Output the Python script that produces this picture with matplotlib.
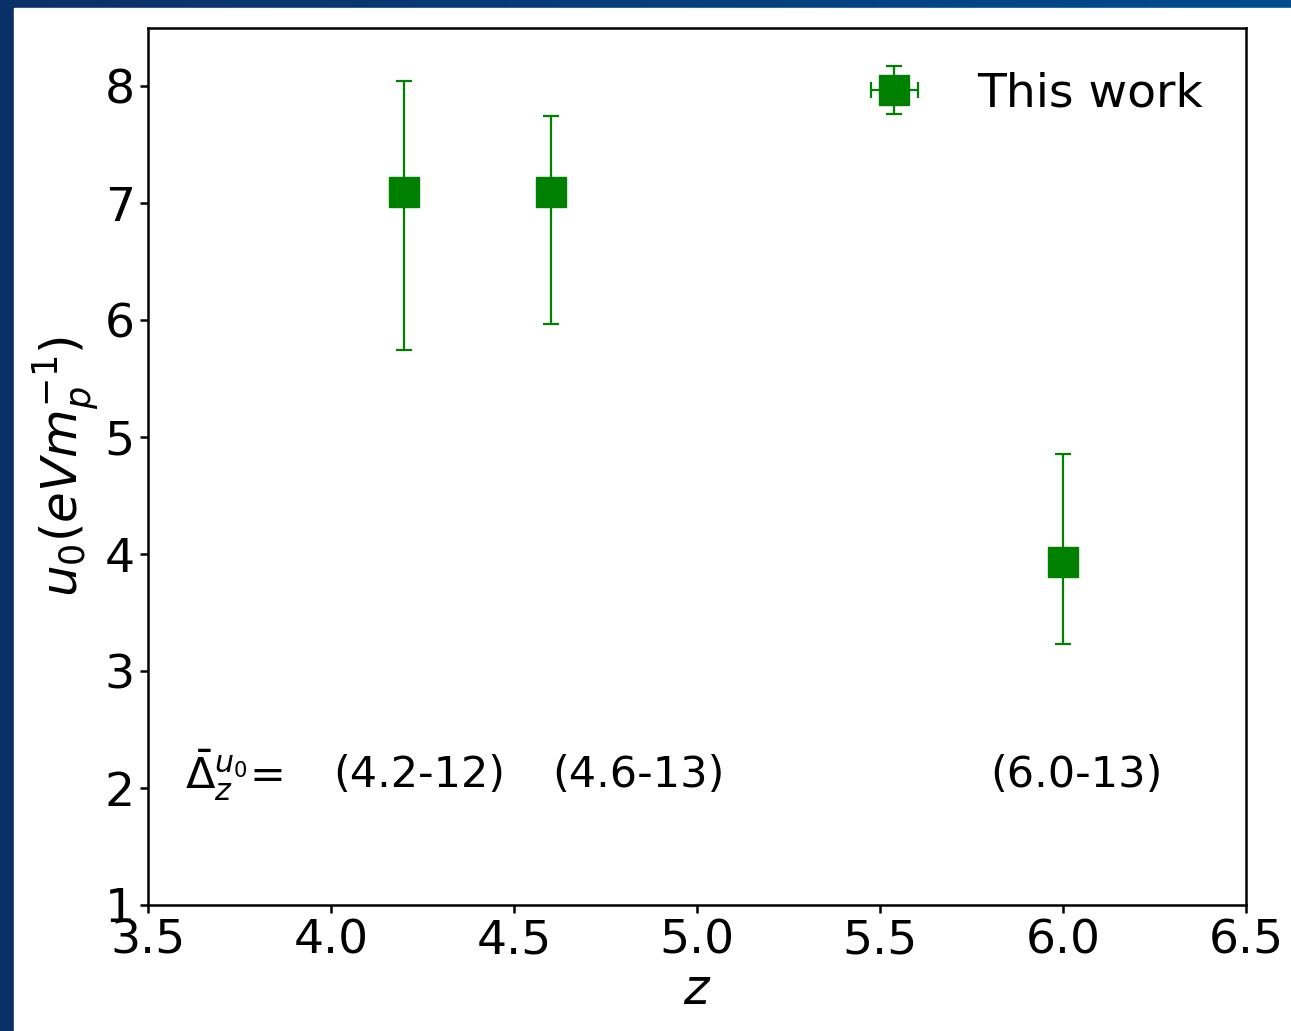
import numpy as np
import matplotlib
matplotlib.use('Agg')
import matplotlib.pyplot as plt
from matplotlib.patches import Rectangle

# dados
z = [4.2, 4.6, 6.0]
u0 = [7.10, 7.10, 3.93]
err_up = [0.95, 0.65, 0.93]
err_down = [1.35, 1.13, 0.70]
z_err = [0.0, 0.0, 0.0]
rotulos = ['(4.2-12)', '(4.6-13)', '(6.0-13)']
rotulo_x = [4.005, 4.604, 5.80]

fig = plt.figure(figsize=(12.91, 10.31), dpi=100)

# moldura azul do slide
fundo = fig.add_axes([0, 0, 1, 1], zorder=-2)
grad = np.linspace(0, 1, 256).reshape(1, -1)
cmap = matplotlib.colors.LinearSegmentedColormap.from_list('slide', ['#0b3068', '#004c8e'])
fundo.imshow(grad, aspect='auto', cmap=cmap, extent=[0, 1, 0, 1])
fundo.add_patch(Rectangle((14 / 1291, 0), 1, 1 - 8 / 1031, color='white'))
fundo.set_xlim(0, 1)
fundo.set_ylim(0, 1)
fundo.axis('off')

ax = fig.add_axes([148 / 1291, 126 / 1031, 1098 / 1291, 877 / 1031])
ax.errorbar(z, u0, yerr=[err_down, err_up], xerr=z_err, fmt='s', color='green',
            markersize=22, elinewidth=1.6, capsize=6, capthick=1.6, label='This work')

ax.text(3.60, 2.11, r'$\bar{\Delta}_z^{u_0}$=', fontsize=31, va='center')
for xr, txt in zip(rotulo_x, rotulos):
    ax.text(xr, 2.11, txt, fontsize=31, va='center')

ax.set_xlim(3.5, 6.5)
ax.set_ylim(1, 8.5)
ax.set_xticks(np.arange(3.5, 6.51, 0.5))
ax.set_yticks(range(1, 9))
ax.tick_params(labelsize=34, width=1.8, length=6)
for s in ax.spines.values():
    s.set_linewidth(1.8)
ax.set_xlabel('$z$', fontsize=35, labelpad=2)
ax.set_ylabel(r'$u_0(eVm_p^{-1})$', fontsize=36, labelpad=2)
ax.legend(loc='upper right', fontsize=34, frameon=False, handletextpad=0.75,
          borderaxespad=0.52)

fig.savefig('out.png', dpi=100)
